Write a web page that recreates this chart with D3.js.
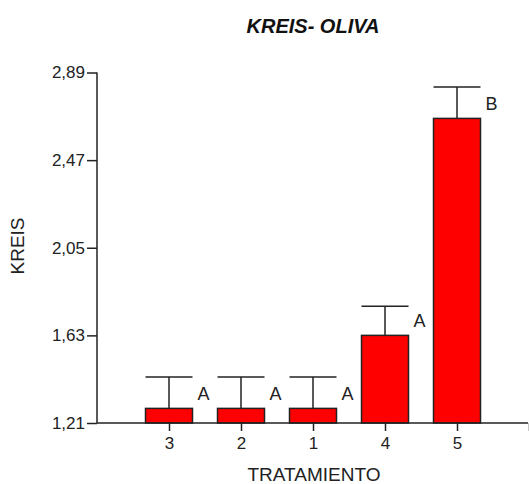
<!DOCTYPE html>
<html><head><meta charset="utf-8">
<script src="https://cdn.jsdelivr.net/npm/d3@7"></script>
<style>body{margin:0;background:#fff}svg{display:block}text{font-family:"Liberation Sans",Arial,sans-serif}</style>
</head><body>
<svg id="c" width="529" height="484"></svg>
<script>
const categories = ["3","2","1","4","5"];
const means = [1.28, 1.28, 1.28, 1.63, 2.67];
const errors = [0.15, 0.15, 0.15, 0.14, 0.15];
const letters = ["A","A","A","A","B"];
const yTicks = [1.21, 1.63, 2.05, 2.47, 2.89];

const svg = d3.select("#c");
const x = d3.scaleLinear().domain([0, 6]).range([97, 529]);
const y = d3.scaleLinear().domain([1.21, 2.89]).range([423, 72.5]);
const bw = 47;
const ink = "#222";
const ff = "\"Liberation Sans\",Arial,sans-serif";

const data = categories.map((c, i) => ({c, i: i + 1, m: means[i], e: errors[i], l: letters[i]}));

const eb = svg.append("g").attr("stroke", ink).attr("stroke-width", 1.5);
eb.selectAll("line.v").data(data).join("line").attr("class", "v")
  .attr("x1", d => x(d.i)).attr("x2", d => x(d.i))
  .attr("y1", d => y(d.m)).attr("y2", d => y(d.m + d.e));
eb.selectAll("line.h").data(data).join("line").attr("class", "h")
  .attr("x1", d => x(d.i) - bw / 2).attr("x2", d => x(d.i) + bw / 2)
  .attr("y1", d => y(d.m + d.e)).attr("y2", d => y(d.m + d.e));

svg.append("g").selectAll("rect").data(data).join("rect")
  .attr("x", d => x(d.i) - bw / 2).attr("width", bw)
  .attr("y", d => y(d.m)).attr("height", d => y(1.21) - y(d.m))
  .attr("fill", "#ff0000").attr("stroke", ink).attr("stroke-width", 1.5);

svg.append("g").selectAll("text").data(data).join("text")
  .attr("x", d => x(d.i) + bw / 2 + 5).attr("y", d => y(d.m) - 8)
  .attr("font-size", 18).attr("fill", "#222").text(d => d.l);

const yAxis = svg.append("g").attr("transform", "translate(97,0)")
  .call(d3.axisLeft(y).tickValues(yTicks).tickSize(10).tickPadding(2)
    .tickFormat(d => d3.format(".2f")(d).replace(".", ",")));
const xAxis = svg.append("g").attr("transform", "translate(0,423)")
  .call(d3.axisBottom(x).tickValues([1,2,3,4,5,6]).tickSize(8).tickPadding(6)
    .tickFormat(d => d <= 5 ? categories[d - 1] : ""));
[yAxis, xAxis].forEach(a => {
  a.select(".domain").attr("stroke", ink).attr("stroke-width", 1.5);
  a.selectAll(".tick line").attr("stroke", ink).attr("stroke-width", 1.5);
  a.selectAll(".tick text").attr("font-size", 17).attr("fill", "#222").attr("font-family", ff);
});
yAxis.select(".domain").attr("d", "M0,72.5V423");
xAxis.select(".domain").attr("d", "M97,0H528");

svg.append("text").attr("x", 314).attr("y", 480.5).attr("text-anchor", "middle")
  .attr("font-size", 19).attr("fill", "#222").text("TRATAMIENTO");
svg.append("text").attr("transform", "translate(24,246) rotate(-90)").attr("text-anchor", "middle")
  .attr("font-size", 19).attr("fill", "#222").text("KREIS");
svg.append("text").attr("x", 313).attr("y", 33).attr("text-anchor", "middle")
  .attr("font-size", 20).attr("font-weight", "bold").attr("font-style", "italic")
  .attr("fill", "#111").text("KREIS- OLIVA");
</script>
</body></html>
